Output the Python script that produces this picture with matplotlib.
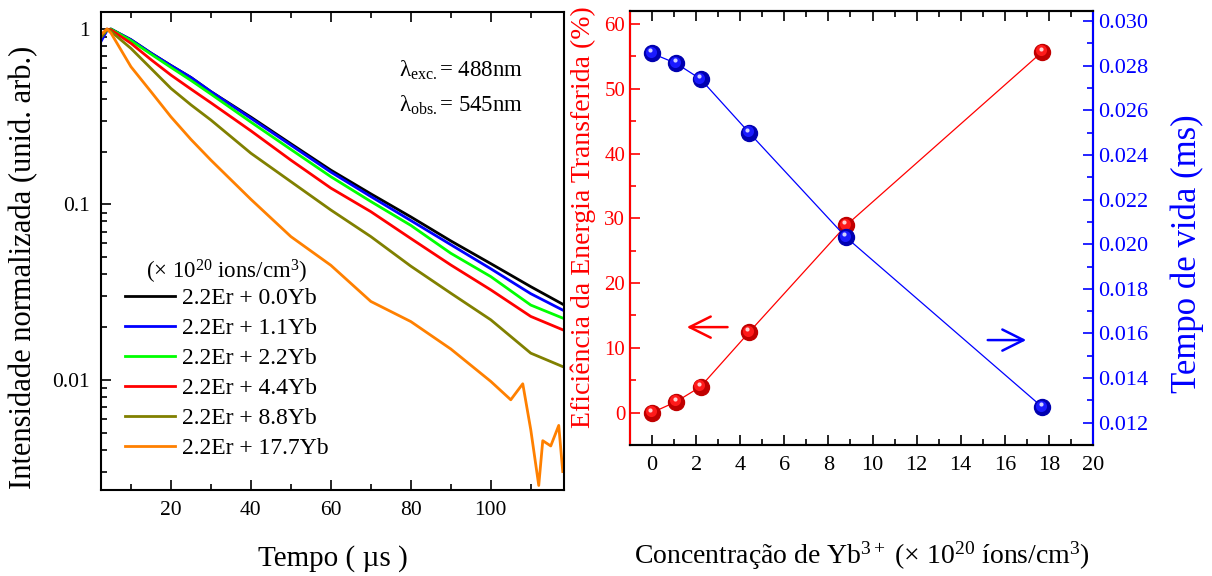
import matplotlib
matplotlib.use("Agg")
import matplotlib.pyplot as plt
import matplotlib.transforms as mtransforms
from matplotlib.ticker import FixedLocator, FixedFormatter, MultipleLocator, LogLocator, NullFormatter

plt.rcParams["font.family"] = ["Liberation Serif", "DejaVu Serif"]
plt.rcParams["mathtext.fontset"] = "custom"
plt.rcParams["mathtext.rm"] = "Liberation Serif"
plt.rcParams["mathtext.it"] = "Liberation Serif:italic"
plt.rcParams["mathtext.bf"] = "Liberation Serif:bold"

# decay curves (time in us, normalized intensity)
t_main = [2.5, 4, 5, 10, 15, 20, 25, 30, 40, 50, 60, 70, 80, 90, 100, 110, 118]
i_00yb = [0.90, 0.99, 1.0, 0.87, 0.73, 0.62, 0.53, 0.44, 0.315, 0.222, 0.157, 0.115, 0.085, 0.062, 0.046, 0.034, 0.027]
i_11yb = [0.85, 0.98, 1.0, 0.87, 0.73, 0.62, 0.53, 0.44, 0.310, 0.218, 0.153, 0.111, 0.081, 0.059, 0.043, 0.031, 0.025]
i_22yb = [0.90, 0.99, 1.0, 0.86, 0.72, 0.605, 0.51, 0.426, 0.295, 0.206, 0.144, 0.104, 0.076, 0.0527, 0.0388, 0.0267, 0.0225]
i_44yb = [0.90, 1.0, 0.99, 0.83, 0.67, 0.547, 0.455, 0.38, 0.263, 0.179, 0.124, 0.091, 0.064, 0.0452, 0.0326, 0.023, 0.0193]
i_88yb = [0.90, 1.0, 0.97, 0.776, 0.597, 0.459, 0.37, 0.303, 0.196, 0.135, 0.093, 0.0656, 0.0445, 0.0312, 0.022, 0.0142, 0.0119]

t_177 = [2.5, 4, 5, 10, 15, 20, 25, 30, 40, 50, 60, 70, 80, 90, 100, 105, 108, 110, 112, 113, 115, 117, 118]
i_177yb = [0.93, 1.0, 0.95, 0.61, 0.44, 0.316, 0.235, 0.179, 0.107, 0.0656, 0.045, 0.028, 0.0215, 0.015, 0.0098,
           0.0077, 0.0095, 0.0052, 0.0025, 0.0045, 0.0042, 0.0055, 0.003]

curve_labels = ["2.2Er + 0.0Yb", "2.2Er + 1.1Yb", "2.2Er + 2.2Yb",
                "2.2Er + 4.4Yb", "2.2Er + 8.8Yb", "2.2Er + 17.7Yb"]
curve_colors = ["black", "#0000ff", "#00ff00", "#ff0000", "#808000", "#ff8000"]

# right panel: Yb concentration vs efficiency and lifetime
yb_conc = [0, 1.1, 2.2, 4.4, 8.8, 17.7]
efficiency = [0, 1.7, 4.0, 12.4, 28.9, 55.7]
lifetime = [0.02855, 0.0281, 0.0274, 0.0250, 0.02031, 0.0127]

fig = plt.figure(figsize=(12.12, 5.76), dpi=100)

# ---------- left panel ----------
ax1 = fig.add_axes([0.0833, 0.149, 0.382, 0.830])
series = [(t_main, i_00yb), (t_main, i_11yb), (t_main, i_22yb),
          (t_main, i_44yb), (t_main, i_88yb), (t_177, i_177yb)]
for (tt, yy), lab, col in zip(series, curve_labels, curve_colors):
    ax1.plot(tt, yy, color=col, lw=2.0, label=lab)

ax1.set_yscale("log")
ax1.set_xlim(2.5, 118.3)
ax1.set_ylim(0.00235, 1.25)
ax1.xaxis.set_major_locator(MultipleLocator(20))
ax1.xaxis.set_minor_locator(MultipleLocator(10))
ax1.yaxis.set_major_locator(FixedLocator([0.01, 0.1, 1]))
ax1.yaxis.set_major_formatter(FixedFormatter(["0.01", "0.1", "1"]))
ax1.yaxis.set_minor_locator(LogLocator(base=10, subs=range(2, 10)))
ax1.yaxis.set_minor_formatter(NullFormatter())
ax1.tick_params(which="both", direction="in", top=True, right=False, labelsize=15.5, width=1.2)
ax1.tick_params(which="major", length=7, pad=8)
ax1.tick_params(which="minor", length=4)
for sp in ax1.spines.values():
    sp.set_linewidth(1.5)
ax1.set_xlabel("Tempo ( µs )", fontsize=21, labelpad=18)
ax1.set_ylabel("Intensidade normalizada (unid. arb.)", fontsize=22, labelpad=10)
ax1.yaxis.label.set_y(0.467)

ax1.text(0.643, 0.879, r"λ$_{\rm exc.}$= 488nm", transform=ax1.transAxes, fontsize=16.5, va="center")
ax1.text(0.643, 0.805, r"λ$_{\rm obs.}$= 545nm", transform=ax1.transAxes, fontsize=16.5, va="center")

leg = ax1.legend(loc="lower left", bbox_to_anchor=(0.017, 0.03), frameon=False, fontsize=17,
                 title=r"(× 10$^{20}$ ions/cm$^{3}$)", title_fontsize=16.5,
                 handlelength=2.1, handletextpad=0.3, labelspacing=0.36, borderaxespad=0.3)
leg._legend_box.sep = 1

# ---------- right panel ----------
ax2 = fig.add_axes([0.5198, 0.2274, 0.382, 0.7535])
ax3 = ax2.twinx()


def sphere(ax, x, y, dark, mid, light):
    ax.plot(x, y, ls="none", marker="o", ms=11.5, mfc=dark, mec=dark, zorder=5)
    off1 = mtransforms.offset_copy(ax.transData, fig=fig, x=-0.8, y=1.0, units="points")
    ax.plot(x, y, ls="none", marker="o", ms=8, mfc=mid, mec="none", transform=off1, zorder=6)
    off2 = mtransforms.offset_copy(ax.transData, fig=fig, x=-1.2, y=2.2, units="points")
    ax.plot(x, y, ls="none", marker="o", ms=3, mfc=light, mec="none", transform=off2, zorder=7)


ax2.plot(yb_conc, efficiency, color="#ff0000", lw=0.9, zorder=3)
sphere(ax2, yb_conc, efficiency, "#c00000", "#ff1a1a", "#ffd0d0")
ax3.plot(yb_conc, lifetime, color="#0000ff", lw=0.9, zorder=3)
sphere(ax3, yb_conc, lifetime, "#0000b0", "#1a1aff", "#d0d0ff")

ax2.set_xlim(-1, 20)
ax2.set_ylim(-5, 62)
ax3.set_ylim(0.011, 0.03045)
ax2.xaxis.set_major_locator(MultipleLocator(2))
ax2.xaxis.set_minor_locator(MultipleLocator(1))
ax2.yaxis.set_major_locator(MultipleLocator(10))
ax2.yaxis.set_minor_locator(MultipleLocator(5))
ax3.yaxis.set_major_locator(MultipleLocator(0.002))
ax3.yaxis.set_minor_locator(MultipleLocator(0.001))
ax3.yaxis.set_major_formatter(plt.FuncFormatter(lambda v, p: f"{v:.3f}"))

ax2.tick_params(axis="x", which="both", direction="in", top=True, labelsize=16, width=1.2, pad=8)
ax2.tick_params(axis="x", which="major", length=7)
ax2.tick_params(axis="x", which="minor", length=4)
ax2.tick_params(axis="y", which="both", direction="in", colors="#ff0000", labelsize=15, width=1.2)
ax2.tick_params(axis="y", which="major", length=7)
ax2.tick_params(axis="y", which="minor", length=4)
ax3.tick_params(axis="y", which="both", direction="in", colors="#0000ff", labelsize=16, width=1.2)
ax3.tick_params(axis="y", which="major", length=7)
ax3.tick_params(axis="y", which="minor", length=4)

for sp in ax2.spines.values():
    sp.set_linewidth(1.5)
ax3.spines["left"].set_color("#ff0000")
ax3.spines["right"].set_color("#0000ff")
for sp in ax3.spines.values():
    sp.set_linewidth(1.5)

ax2.set_xlabel(r"Concentração de Yb$^{3+}$ (× 10$^{20}$ íons/cm$^{3}$)", fontsize=20, labelpad=46)
ax2.set_ylabel("Eficiência da Energia Transferida (%)", fontsize=20, color="#ff0000", labelpad=6)
ax2.yaxis.label.set_y(0.524)
ax3.set_ylabel("Tempo de vida (ms)", fontsize=25, color="#0000ff", labelpad=16)
ax3.yaxis.label.set_y(0.44)

ax2.annotate("", xy=(1.45, 13.2), xytext=(3.55, 13.2),
             arrowprops=dict(arrowstyle="->", color="#ff0000", lw=1.8, mutation_scale=38))
ax2.annotate("", xy=(17.1, 11.2), xytext=(15.1, 11.2),
             arrowprops=dict(arrowstyle="->", color="#0000ff", lw=1.8, mutation_scale=38))

fig.savefig("out.png", dpi=100)
